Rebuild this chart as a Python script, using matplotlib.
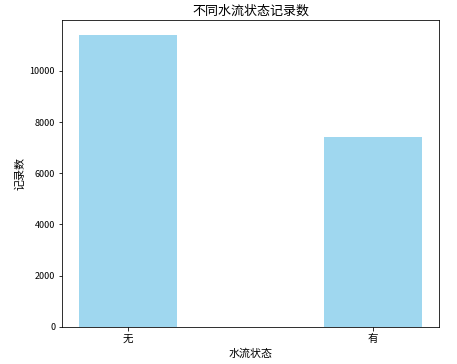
import numpy as np
from matplotlib import pyplot as plt

plt.rcParams['font.family'] = ['Noto Sans CJK SC', 'DejaVu Sans']
plt.rcParams['axes.unicode_minus'] = False

states = ['无', '有']
counts = [11400, 7400]

fig = plt.figure(figsize=(457/72, 364/72), dpi=72)
ax = fig.add_axes([0.136, 0.102, 0.825, 0.842])
x = np.arange(len(states))
ax.bar(x, counts, width=0.4, color='skyblue', alpha=0.8)
ax.set_xticks(x)
ax.set_xticklabels(states, fontsize=10.5)
ax.set_title('不同水流状态记录数', fontsize=13)
ax.set_xlabel('水流状态', fontsize=11)
ax.set_ylabel('记录数', fontsize=11)
ax.tick_params(axis='y', labelsize=9)

fig.savefig('out.png', dpi=72)
